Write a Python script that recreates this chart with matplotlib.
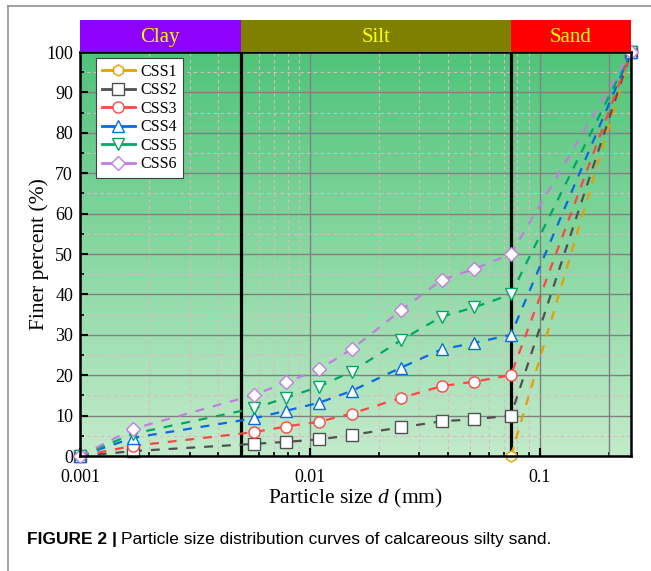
import numpy as np
import matplotlib
matplotlib.use("Agg")
import matplotlib.pyplot as plt
from matplotlib.colors import LinearSegmentedColormap
from matplotlib.ticker import FixedLocator, NullFormatter, MultipleLocator

# Sieve / hydrometer diameters (mm)
d_fine = [0.001, 0.0017, 0.0057, 0.0079, 0.011, 0.0152, 0.025, 0.0375, 0.052, 0.075, 0.25]
d_css1 = [0.075, 0.25]

# Percent finer for each sample
css1 = [0, 100]
css2 = [0, 1.2, 3.0, 3.5, 4.1, 5.2, 7.1, 8.6, 9.1, 10.0, 100]
css3 = [0, 2.5, 5.9, 7.3, 8.5, 10.5, 14.4, 17.3, 18.4, 20.0, 100]
css4 = [0, 4.5, 9.3, 11.2, 13.2, 16.1, 21.9, 26.4, 28.0, 30.0, 100]
css5 = [0, 5.5, 11.8, 14.4, 17.2, 20.9, 28.7, 34.5, 36.8, 40.0, 100]
css6 = [0, 6.7, 15.1, 18.2, 21.5, 26.4, 36.1, 43.6, 46.3, 50.0, 100]

names = ["CSS1", "CSS2", "CSS3", "CSS4", "CSS5", "CSS6"]
colors = ["#E69F00", "#505050", "#FF4545", "#0A6AE0", "#00A865", "#C07FE0"]
markers = ["h", "s", "o", "^", "v", "D"]

# soil classes along the x axis
zones = ["Clay", "Silt", "Sand"]
zone_edges = [0.001, 0.005, 0.075, 0.25]
zone_colors = ["#9000FF", "#808000", "#FF0000"]

plt.rcParams["font.family"] = ["Liberation Serif", "DejaVu Serif"]
plt.rcParams["mathtext.fontset"] = "custom"
plt.rcParams["mathtext.it"] = "Liberation Serif:italic"
plt.rcParams["mathtext.rm"] = "Liberation Serif"

fig = plt.figure(figsize=(6.51, 5.71), dpi=100)
ax = fig.add_axes([0.1229, 0.2014, 0.8464, 0.7075])

# green background gradient
cmap = LinearSegmentedColormap.from_list("bg", ["#C3EBCB", "#4FC479"])
grad = np.linspace(0, 1, 256).reshape(-1, 1)
ax.imshow(grad, aspect="auto", cmap=cmap, origin="lower", extent=[0, 1, 0, 1],
          transform=ax.transAxes, zorder=0)

ax.set_xscale("log")
ax.set_xlim(0.001, 0.25)
ax.set_ylim(0, 100)

ax.xaxis.set_major_locator(FixedLocator([0.001, 0.01, 0.1]))
ax.set_xticklabels(["0.001", "0.01", "0.1"])
minor_x = [m * 10.0 ** e for e in (-3, -2, -1) for m in range(2, 10) if m * 10.0 ** e < 0.25]
ax.xaxis.set_minor_locator(FixedLocator(minor_x))
ax.xaxis.set_minor_formatter(NullFormatter())
ax.yaxis.set_major_locator(MultipleLocator(10))
ax.yaxis.set_minor_locator(MultipleLocator(5))

ax.grid(which="major", color="#808080", lw=1.0, ls="-", zorder=1)
ax.grid(which="minor", color="#E3B5C8", lw=0.8, ls=(0, (3, 3)), zorder=1)
ax.axvline(0.2, color="#808080", lw=1.0, zorder=1)
ax.set_axisbelow(True)

ax.tick_params(which="major", direction="in", length=6, width=1.5, labelsize=13,
               top=False, right=False)
ax.tick_params(axis="x", which="major", pad=9)
ax.tick_params(axis="y", which="major", pad=5)
ax.tick_params(which="minor", direction="in", length=3, width=1.2,
               top=False, right=False)
for s in ax.spines.values():
    s.set_linewidth(1.8)
    s.set_zorder(5)

# class boundaries
for b in zone_edges[1:3]:
    ax.axvline(b, color="black", lw=2.3, zorder=3)

xs_all = [d_css1] + [d_fine] * 5
ys_all = [css1, css2, css3, css4, css5, css6]
for xs, ys, name, c, m in zip(xs_all, ys_all, names, colors, markers):
    ax.plot(xs, ys, ls=(0, (4, 4)), lw=1.6, color=c, marker=m, ms=8 if m != "D" else 7,
            mfc="white", mec=c, mew=1.0, label=name, clip_on=False, zorder=4)

leg = ax.legend(loc="upper left", bbox_to_anchor=(0.029, 0.985), borderaxespad=0,
                fontsize=11.5, handlelength=2.1, labelspacing=0.16, borderpad=0.35,
                handletextpad=0.35, fancybox=False, framealpha=1, edgecolor="#404040")
leg.get_frame().set_linewidth(0.8)
for ln in leg.get_lines():
    ln.set_linestyle("-")
    ln.set_linewidth(2.0)

ax.set_xlabel("Particle size $d$ (mm)", fontsize=15.5, labelpad=1)
ax.set_ylabel("Finer percent (%)", fontsize=15.5, labelpad=-2)

# zone header bars above the axes
band = fig.add_axes([0.1229, 0.9089, 0.8464, 0.0560], sharex=ax)
band.set_ylim(0, 1)
for z, lo, hi, c in zip(zones, zone_edges[:-1], zone_edges[1:], zone_colors):
    band.axvspan(lo, hi, color=c, lw=0)
    band.text(np.sqrt(lo * hi), 0.45, z, ha="center", va="center",
              color="#FFFF00", fontsize=15)
band.axis("off")

# caption: bold label followed by plain text
cap_y = 0.055
head = fig.text(0.0415, cap_y, "FIGURE 2 |", fontsize=12.5, fontweight="bold",
                family="Liberation Sans", ha="left", va="center")
renderer = fig.canvas.get_renderer()
bb = head.get_window_extent(renderer=renderer)
x_next = (bb.x1 + 4) / fig.bbox.width
fig.text(x_next, cap_y, "Particle size distribution curves of calcareous silty sand.",
         fontsize=12.5, family="Liberation Sans", ha="left", va="center")

# page frame
fig.add_artist(plt.Line2D([0.0123, 0.0123], [0, 0.9895], color="#909090", lw=1.2))
fig.add_artist(plt.Line2D([0.0123, 1.0], [0.9895, 0.9895], color="#909090", lw=1.2))

fig.savefig("out.png", dpi=100)
